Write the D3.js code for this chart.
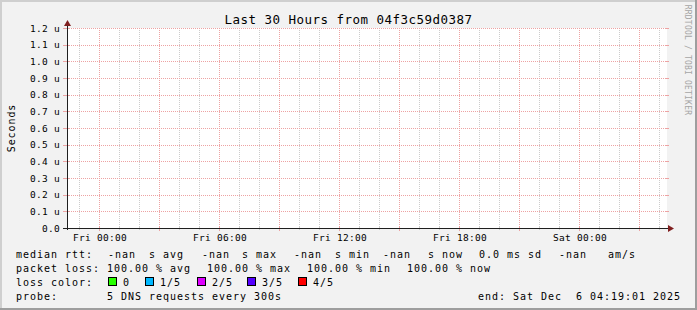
<!DOCTYPE html>
<meta charset="utf-8">
<script src="https://d3js.org/d3.v7.min.js"></script>
<style>
  body { margin: 0; }
  svg text { font-family: "DejaVu Sans Mono", monospace; fill: #000; }
  line { shape-rendering: crispEdges; }
</style>
<div id="chart"></div>
<script>

// chart values
var titleText = "Last 30 Hours from 04f3c59d0387";
var yLabel = "Seconds";
var yTicks = [0, 0.1, 0.2, 0.3, 0.4, 0.5, 0.6, 0.7, 0.8, 0.9, 1.0, 1.1, 1.2]; // microseconds
var timeEnd = Date.UTC(2025, 11, 6, 4, 19, 1);
var spanHours = 30;
var rttRow = ["median rtt:", "-nan", "s avg", "-nan", "s max", "-nan", "s min", "-nan", "s now", "0.0 ms sd", "-nan", "am/s"];
var lossRow = ["packet loss:", "100.00 % avg", "100.00 % max", "100.00 % min", "100.00 % now"];
var lossTitle = "loss color:";
var lossLabels = ["0", "1/5", "2/5", "3/5", "4/5"];
var lossColors = ["#26ff00", "#00b8ff", "#dd00ff", "#5500ff", "#ff0000"];
var probeRow = ["probe:", "5 DNS requests every 300s"];
var endText = "end: Sat Dec  6 04:19:01 2025";

// layout (legend columns, px)
var rttX = [16, 108, 149, 202, 242, 294, 335, 383, 428, 479, 559, 608];
var lossX = [16, 107, 207, 307, 407];
var boxX = [108, 145, 197, 247, 298];
var probeX = [16, 107];

var W = 697, H = 310;
var plot = {left: 67, right: 667, top: 28, bottom: 228};

var colGrid = "#cccccc";
var colMGrid = "#eda3a3";
var colAxis = "#1f1f1f";
var colArrow = "#801f1f";

var svg = d3.select("#chart").append("svg")
    .attr("width", W).attr("height", H);

// background + frame
svg.append("rect").attr("width", W).attr("height", H).attr("fill", "#f2f2f2");
svg.append("path").attr("d", "M0,0H" + W + "V2H2V" + H + "H0Z").attr("fill", "#cfcfcf");
svg.append("path").attr("d", "M" + W + ",0V" + H + "H0V" + (H - 2) + "H" + (W - 2) + "V0Z").attr("fill", "#9e9e9e");

// canvas
svg.append("rect")
    .attr("x", plot.left).attr("y", plot.top)
    .attr("width", plot.right - plot.left).attr("height", plot.bottom - plot.top)
    .attr("fill", "#fff");

var x = d3.scaleUtc()
    .domain([new Date(timeEnd - spanHours * 3600e3), new Date(timeEnd)])
    .range([plot.left, plot.right]);
var y = d3.scaleLinear().domain([0, 1.2]).range([plot.bottom, plot.top]);

function sx(t) { return Math.floor(x(t)) - 0.5; }
function sy(v) { return Math.round(y(v)) + 0.5; }

var minorT = x.ticks(d3.utcHour.every(1));
var majorT = x.ticks(d3.utcHour.every(3));
var labelT = x.ticks(d3.utcHour.every(6));
var isMajor = function(t) { return t.getUTCHours() % 3 === 0; };

// minor vertical grid
svg.append("g").selectAll("line")
  .data(minorT.filter(function(t){ return !isMajor(t); }))
  .enter().append("line")
    .attr("x1", sx).attr("x2", sx)
    .attr("y1", plot.top).attr("y2", plot.bottom)
    .attr("stroke", colGrid).attr("stroke-dasharray", "1,1");

// minor ticks
svg.append("g").selectAll("line")
  .data(minorT.filter(function(t){ return !isMajor(t); }))
  .enter().append("line")
    .attr("x1", sx).attr("x2", sx)
    .attr("y1", plot.bottom - 2).attr("y2", plot.bottom + 2)
    .attr("stroke", colGrid);

// major vertical grid
svg.append("g").selectAll("line")
  .data(majorT)
  .enter().append("line")
    .attr("x1", sx).attr("x2", sx)
    .attr("y1", plot.top).attr("y2", plot.bottom)
    .attr("stroke", colMGrid).attr("stroke-dasharray", "1,1");
svg.append("g").selectAll("line")
  .data(majorT)
  .enter().append("line")
    .attr("x1", sx).attr("x2", sx)
    .attr("y1", plot.bottom - 2).attr("y2", plot.bottom + 3)
    .attr("stroke", colMGrid);

// horizontal grid
svg.append("g").selectAll("line")
  .data(yTicks)
  .enter().append("line")
    .attr("x1", plot.left).attr("x2", plot.right)
    .attr("y1", sy).attr("y2", sy)
    .attr("stroke", colMGrid).attr("stroke-dasharray", "1,1");
svg.append("g").selectAll("line")
  .data(yTicks)
  .enter().append("line")
    .attr("x1", plot.left - 4).attr("x2", plot.left + 2)
    .attr("y1", sy).attr("y2", sy)
    .attr("stroke", colMGrid);
svg.append("g").selectAll("line")
  .data(yTicks)
  .enter().append("line")
    .attr("x1", plot.right - 2).attr("x2", plot.right + 2)
    .attr("y1", sy).attr("y2", sy)
    .attr("stroke", colMGrid);

// axes
svg.append("line")
    .attr("x1", plot.left - 4).attr("x2", plot.right + 2)
    .attr("y1", plot.bottom + 0.5).attr("y2", plot.bottom + 0.5)
    .attr("stroke", colAxis);
svg.append("line")
    .attr("x1", plot.left + 0.5).attr("x2", plot.left + 0.5)
    .attr("y1", plot.bottom + 2).attr("y2", plot.top - 3)
    .attr("stroke", colAxis);
svg.append("path")
    .attr("d", "M" + (plot.left + 0.5) + "," + (plot.top - 8) + "l3.5,6h-7z")
    .attr("fill", colArrow);
svg.append("path")
    .attr("d", "M" + (plot.right + 7) + "," + (plot.bottom + 0.5) + "l-6,-3.5v7z")
    .attr("fill", colArrow);

// tick labels
svg.append("g").selectAll("text")
  .data(yTicks)
  .enter().append("text")
    .attr("x", 60).attr("y", function(d){ return y(d) + 3.5; })
    .attr("text-anchor", "end")
    .style("font-size", "9.5px").style("letter-spacing", "0.3px")
    .text(function(d){ return d.toFixed(1) + (d === 0 ? "  " : " u"); });

svg.append("g").selectAll("text")
  .data(labelT)
  .enter().append("text")
    .attr("x", function(d){ return sx(d) + 0.5; }).attr("y", 241)
    .attr("text-anchor", "middle")
    .style("font-size", "9.5px").style("letter-spacing", "0.3px")
    .text(d3.utcFormat("%a %H:%M"));

// title and axis label
svg.append("text")
    .attr("x", W / 2).attr("y", 24)
    .attr("text-anchor", "middle")
    .style("font-size", "12.5px").style("letter-spacing", "0.47px")
    .text(titleText);

svg.append("text")
    .attr("transform", "translate(15," + ((plot.top + plot.bottom) / 2) + ")rotate(-90)")
    .attr("text-anchor", "middle")
    .style("font-size", "10px").style("letter-spacing", "0.9px")
    .text(yLabel);

svg.append("text")
    .attr("transform", "translate(685,60)rotate(90)")
    .attr("text-anchor", "middle")
    .style("font-size", "8px").style("letter-spacing", "0.2px")
    .style("fill", "#a5a5a5")
    .text("RRDTOOL / TOBI OETIKER");

// legend
var legendFont = function(sel) {
  sel.style("font-size", "10px").style("letter-spacing", "0.98px").attr("xml:space", "preserve");
};

svg.append("g").selectAll("text")
  .data(rttRow).enter().append("text")
    .attr("x", function(d, i){ return rttX[i]; }).attr("y", 258)
    .call(legendFont).text(function(d){ return d; });

svg.append("g").selectAll("text")
  .data(lossRow).enter().append("text")
    .attr("x", function(d, i){ return lossX[i]; }).attr("y", 272)
    .call(legendFont).text(function(d){ return d; });

svg.append("text").attr("x", 16).attr("y", 286).call(legendFont).text(lossTitle);
var lossG = svg.append("g").selectAll("g")
  .data(lossLabels).enter().append("g");
lossG.append("rect")
    .attr("x", function(d, i){ return boxX[i] + 0.5; }).attr("y", 277.5)
    .attr("width", 8).attr("height", 8)
    .attr("fill", function(d, i){ return lossColors[i]; })
    .attr("stroke", "#000");
lossG.append("text")
    .attr("x", function(d, i){ return boxX[i] + 15; }).attr("y", 286)
    .call(legendFont).text(function(d){ return d; });

svg.append("g").selectAll("text")
  .data(probeRow).enter().append("text")
    .attr("x", function(d, i){ return probeX[i]; }).attr("y", 300)
    .call(legendFont).text(function(d){ return d; });

svg.append("text")
    .attr("x", 681).attr("y", 300)
    .attr("text-anchor", "end")
    .call(legendFont).text(endText);

</script>
